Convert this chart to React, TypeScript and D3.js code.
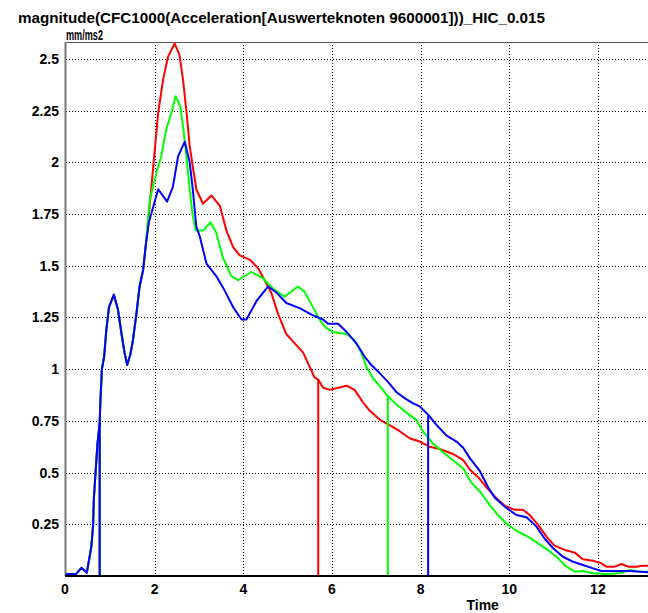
import React from "react";
import * as d3 from "d3";

const titleText = "magnitude(CFC1000(Acceleration[Auswerteknoten 9600001]))_HIC_0.015";
const yUnit = "mm/ms2";
const xLabel = "Time";
const xTicks = [0, 2, 4, 6, 8, 10, 12];
const yTicks = [0.25, 0.5, 0.75, 1, 1.25, 1.5, 1.75, 2, 2.25, 2.5];

// shared initial part of all three curves [time, value]
const sharedStart: [number, number][] = [
  [0, 0.01], [0.23, 0.01], [0.35, 0.04], [0.47, 0.016], [0.57, 0.14], [0.61, 0.24],
  [0.63, 0.38], [0.67, 0.51], [0.71, 0.64], [0.76, 0.74], [0.775, 0.84], [0.81, 1.0],
  [0.86, 1.06], [0.91, 1.19], [0.97, 1.3], [1.08, 1.36], [1.17, 1.29], [1.25, 1.175],
  [1.32, 1.08], [1.38, 1.02], [1.45, 1.07], [1.51, 1.14], [1.59, 1.27], [1.66, 1.4],
  [1.74, 1.48], [1.8, 1.6],
];

const redTail: [number, number][] = [
  [1.87, 1.75], [1.96, 1.96], [2.08, 2.24], [2.19, 2.4], [2.3, 2.51], [2.45, 2.575],
  [2.56, 2.52], [2.64, 2.4], [2.72, 2.24], [2.79, 2.08], [2.86, 1.98], [2.94, 1.87],
  [3.09, 1.8], [3.28, 1.84], [3.47, 1.79], [3.62, 1.67], [3.77, 1.59], [3.92, 1.55],
  [4.14, 1.53], [4.33, 1.49], [4.48, 1.43], [4.63, 1.37], [4.78, 1.27], [4.97, 1.17],
  [5.16, 1.125], [5.35, 1.08], [5.5, 1.01], [5.61, 0.96], [5.69, 0.95], [5.8, 0.91],
  [5.95, 0.9], [6.33, 0.92], [6.51, 0.9], [6.7, 0.84], [6.85, 0.8], [7.08, 0.755],
  [7.3, 0.73], [7.53, 0.7], [7.75, 0.666], [7.98, 0.65], [8.2, 0.625], [8.43, 0.614],
  [8.73, 0.59], [8.96, 0.56], [9.11, 0.515], [9.33, 0.47], [9.52, 0.42], [9.71, 0.376],
  [9.9, 0.34], [10.12, 0.32], [10.31, 0.32], [10.46, 0.295], [10.65, 0.247], [10.84, 0.19],
  [11.02, 0.147], [11.25, 0.126], [11.48, 0.113], [11.66, 0.081], [11.89, 0.074],
  [12.08, 0.061], [12.19, 0.045], [12.38, 0.045], [12.53, 0.058], [12.68, 0.045],
  [12.87, 0.045], [13.0, 0.05], [13.13, 0.05],
];

const greenTail: [number, number][] = [
  [1.89, 1.82], [2.04, 1.95], [2.15, 2.03], [2.26, 2.16], [2.38, 2.24], [2.47, 2.32],
  [2.58, 2.27], [2.65, 2.16], [2.73, 2.0], [2.79, 1.87], [2.86, 1.74], [2.93, 1.67],
  [3.09, 1.67], [3.26, 1.71], [3.39, 1.66], [3.54, 1.54], [3.73, 1.45], [3.88, 1.43],
  [4.18, 1.47], [4.44, 1.44], [4.67, 1.39], [4.93, 1.35], [5.23, 1.4], [5.38, 1.375],
  [5.57, 1.3], [5.72, 1.24], [5.87, 1.2], [6.02, 1.18], [6.33, 1.17], [6.51, 1.14],
  [6.66, 1.08], [6.78, 1.01], [6.93, 0.955], [7.11, 0.91], [7.26, 0.87], [7.45, 0.83],
  [7.68, 0.79], [7.9, 0.755], [8.05, 0.7], [8.28, 0.64], [8.5, 0.6], [8.73, 0.56],
  [8.96, 0.52], [9.15, 0.45], [9.37, 0.4], [9.56, 0.343], [9.74, 0.295], [9.97, 0.247],
  [10.2, 0.214], [10.42, 0.19], [10.65, 0.158], [10.87, 0.126], [11.1, 0.086],
  [11.29, 0.045], [11.48, 0.021], [11.66, 0.024], [11.89, 0.013], [12.19, 0.01],
  [12.49, 0.013], [12.72, 0.029], [12.94, 0.021], [13.13, 0.02],
];

const blueTail: [number, number][] = [
  [1.87, 1.71], [2.08, 1.87], [2.28, 1.81], [2.41, 1.88], [2.53, 2.03], [2.68, 2.1],
  [2.79, 2.0], [2.86, 1.87], [2.94, 1.69], [3.02, 1.64], [3.17, 1.51], [3.39, 1.45],
  [3.58, 1.38], [3.77, 1.3], [3.96, 1.24], [4.07, 1.24], [4.3, 1.33], [4.56, 1.4],
  [4.75, 1.37], [4.97, 1.32], [5.27, 1.295], [5.57, 1.26], [5.8, 1.24], [5.91, 1.22],
  [6.14, 1.22], [6.33, 1.18], [6.55, 1.125], [6.74, 1.06], [6.89, 1.02], [7.08, 0.98],
  [7.26, 0.94], [7.45, 0.89], [7.64, 0.86], [7.83, 0.835], [7.98, 0.82], [8.17, 0.78],
  [8.36, 0.73], [8.58, 0.68], [8.81, 0.65], [8.96, 0.62], [9.11, 0.57], [9.33, 0.51],
  [9.52, 0.43], [9.67, 0.38], [9.9, 0.335], [10.16, 0.295], [10.39, 0.284], [10.61, 0.24],
  [10.8, 0.18], [10.99, 0.134], [11.21, 0.093], [11.44, 0.069], [11.66, 0.053],
  [11.89, 0.037], [12.08, 0.024], [12.72, 0.024], [13.13, 0.018],
];

const seriesNames = ["red", "green", "blue"];
const seriesColors = ["#ff0000", "#00ff00", "#0000ff"];
const seriesTails = [redTail, greenTail, blueTail];
const hicStart = [0.76, 0.76, 0.76];
const hicEnd = [5.69, 7.26, 8.17];

const W = 648;
const H = 613;
const left = 66;
const top = 42;
const bottom = 576;
const right = 648;

export default function App() {
  const x = d3.scaleLinear().domain([0, 13.13]).range([left, right]);
  const y = d3.scaleLinear().domain([0, 2.582]).range([bottom, top]);
  const line = d3
    .line<[number, number]>()
    .x((d) => x(d[0]))
    .y((d) => y(d[1]));
  const bis = d3.bisector((d: [number, number]) => d[0]).left;
  const valueAt = (data: [number, number][], t: number) => {
    const i = Math.max(1, Math.min(data.length - 1, bis(data, t)));
    const a = data[i - 1];
    const b = data[i];
    const f = (t - a[0]) / (b[0] - a[0]);
    return a[1] + f * (b[1] - a[1]);
  };
  const series = seriesTails.map((tail) => [...sharedStart, ...tail]);
  const font = "'Liberation Sans Narrow', 'Arial Narrow', 'Liberation Sans', Arial, sans-serif";

  return (
    <svg
      width={W}
      height={H}
      style={{ position: "absolute", left: 0, top: 0, background: "#fff" }}
      fontFamily={font}
      fontWeight="bold"
    >
      <rect x={0} y={0} width={W} height={H} fill="#fff" />
      <defs>
        <clipPath id="plot">
          <rect x={left - 1} y={top - 2} width={right - left + 2} height={bottom - top + 2} />
        </clipPath>
      </defs>
      <text x={18} y={23} fontSize={15} textLength={527} lengthAdjust="spacingAndGlyphs" fill="#000">
        {titleText}
      </text>
      <text x={66} y={40} fontSize={14} textLength={37} lengthAdjust="spacingAndGlyphs" fill="#000">
        {yUnit}
      </text>
      {/* grid */}
      {yTicks.map((v) => (
        <line
          key={"gy" + v}
          x1={left}
          x2={right}
          y1={Math.round(y(v)) + 0.5}
          y2={Math.round(y(v)) + 0.5}
          stroke="#000"
          strokeWidth={1}
          strokeDasharray="1,2"
        />
      ))}
      {xTicks
        .filter((t) => t > 0)
        .map((t) => (
          <line
            key={"gx" + t}
            x1={Math.round(x(t)) + 0.5}
            x2={Math.round(x(t)) + 0.5}
            y1={top}
            y2={bottom}
            stroke="#000"
            strokeWidth={1}
            strokeDasharray="1,2"
          />
        ))}
      {/* frame */}
      <line x1={left - 1} x2={right} y1={top + 0.5} y2={top + 0.5} stroke="#555" strokeWidth={1} />
      <line x1={left - 0.5} x2={left - 0.5} y1={top} y2={bottom} stroke="#777" strokeWidth={2} />
      {/* curves */}
      <g clipPath="url(#plot)">
        {series.map((data, i) => (
          <g key={seriesNames[i]}>
            <path d={line(data) || ""} fill="none" stroke={seriesColors[i]} strokeWidth={2} strokeLinejoin="round" />
            {[hicStart[i], hicEnd[i]].map((t, k) => (
              <line
                key={k}
                x1={x(t)}
                x2={x(t)}
                y1={y(0)}
                y2={y(valueAt(data, t))}
                stroke={seriesColors[i]}
                strokeWidth={2}
              />
            ))}
          </g>
        ))}
      </g>
      <line x1={left - 1} x2={right} y1={bottom} y2={bottom} stroke="#000" strokeWidth={2} />
      {/* y tick labels */}
      {yTicks.map((v) => (
        <text key={"ty" + v} x={59} y={y(v) + 5} fontSize={14} textAnchor="end" fill="#000">
          {String(v)}
        </text>
      ))}
      {/* x tick labels */}
      {xTicks.map((t) => (
        <text key={"tx" + t} x={x(t) - (t === 0 ? 1 : 0)} y={594} fontSize={14} textAnchor="middle" fill="#000">
          {String(t)}
        </text>
      ))}
      <text x={x(9.4) + 0} y={610} fontSize={14} textAnchor="middle" fill="#000">
        {xLabel}
      </text>
    </svg>
  );
}
